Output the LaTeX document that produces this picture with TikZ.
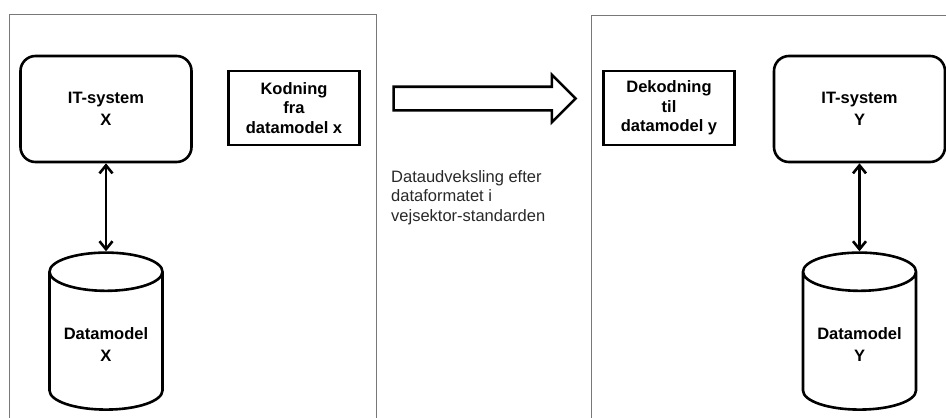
\documentclass[tikz,border=0pt]{standalone}
\usepackage{fontspec}
\setmainfont{Liberation Sans}
\usetikzlibrary{arrows.meta,positioning,shapes.geometric,shapes.arrows}
\tikzset{>=Stealth}
\definecolor{panelgray}{RGB}{120,120,120}
\definecolor{notegray}{RGB}{40,40,40}

\begin{document}
\begin{tikzpicture}[
    x=1pt, y=-1pt,
    node distance=88pt,
    panel/.style={draw=panelgray, line width=1pt},
    sysbox/.style={rectangle, draw, line width=2.6pt, rounded corners=15pt, minimum width=171pt, minimum height=106pt, align=center, font=\bfseries\fontsize{16.5}{22}\selectfont},
    codebox/.style={rectangle, draw, line width=2.6pt, minimum width=131pt, minimum height=74pt, align=center, font=\bfseries\fontsize{16.5}{19.5}\selectfont},
    database/.style={cylinder, shape border rotate=90, aspect=0.42, draw, line width=2.6pt, minimum width=113pt, minimum height=157pt, align=center, font=\bfseries\fontsize{16.5}{22}\selectfont},
    fatarrow/.style={single arrow, draw, line width=2.6pt, minimum height=182pt, inner xsep=0pt, inner ysep=10.5pt, single arrow head extend=12pt},
    note/.style={align=left, text=notegray, inner sep=0pt, font=\fontsize{16.5}{19.5}\selectfont},
    arrow/.style={{Straight Barb[length=8pt,width=13pt]}-{Straight Barb[length=8pt,width=13pt]}, line width=2.6pt}
]
    \useasboundingbox (0,0) rectangle (946,418);

    % the two systems
    \draw[panel] (9,14) rectangle (376,440);
    \draw[panel] (591,15) rectangle (960,440);

    \node[sysbox] (itx) at (106,109) {IT-system\\X};
    \node[database, below=of itx] (dbx) {Datamodel\\X};
    \node[codebox] (enc) at (294,108) {Kodning\\fra\\datamodel x};

    \node[codebox] (dec) at (669,108) {Dekodning\\til\\datamodel y};
    \node[sysbox] (ity) at (859.5,109) {IT-system\\Y};
    \node[database, below=of ity] (dby) {Datamodel\\Y};

    % exchange in between
    \node[fatarrow, anchor=tail] (flow) at (392.3,98.5) {};
    \node[note, anchor=north west] (ex) at (391,170) {Dataudveksling efter\\dataformatet i\\vejsektor-standarden};

    \draw[arrow] (itx) -- (dbx);
    \draw[arrow] (ity) -- (dby);
\end{tikzpicture}
\end{document}
